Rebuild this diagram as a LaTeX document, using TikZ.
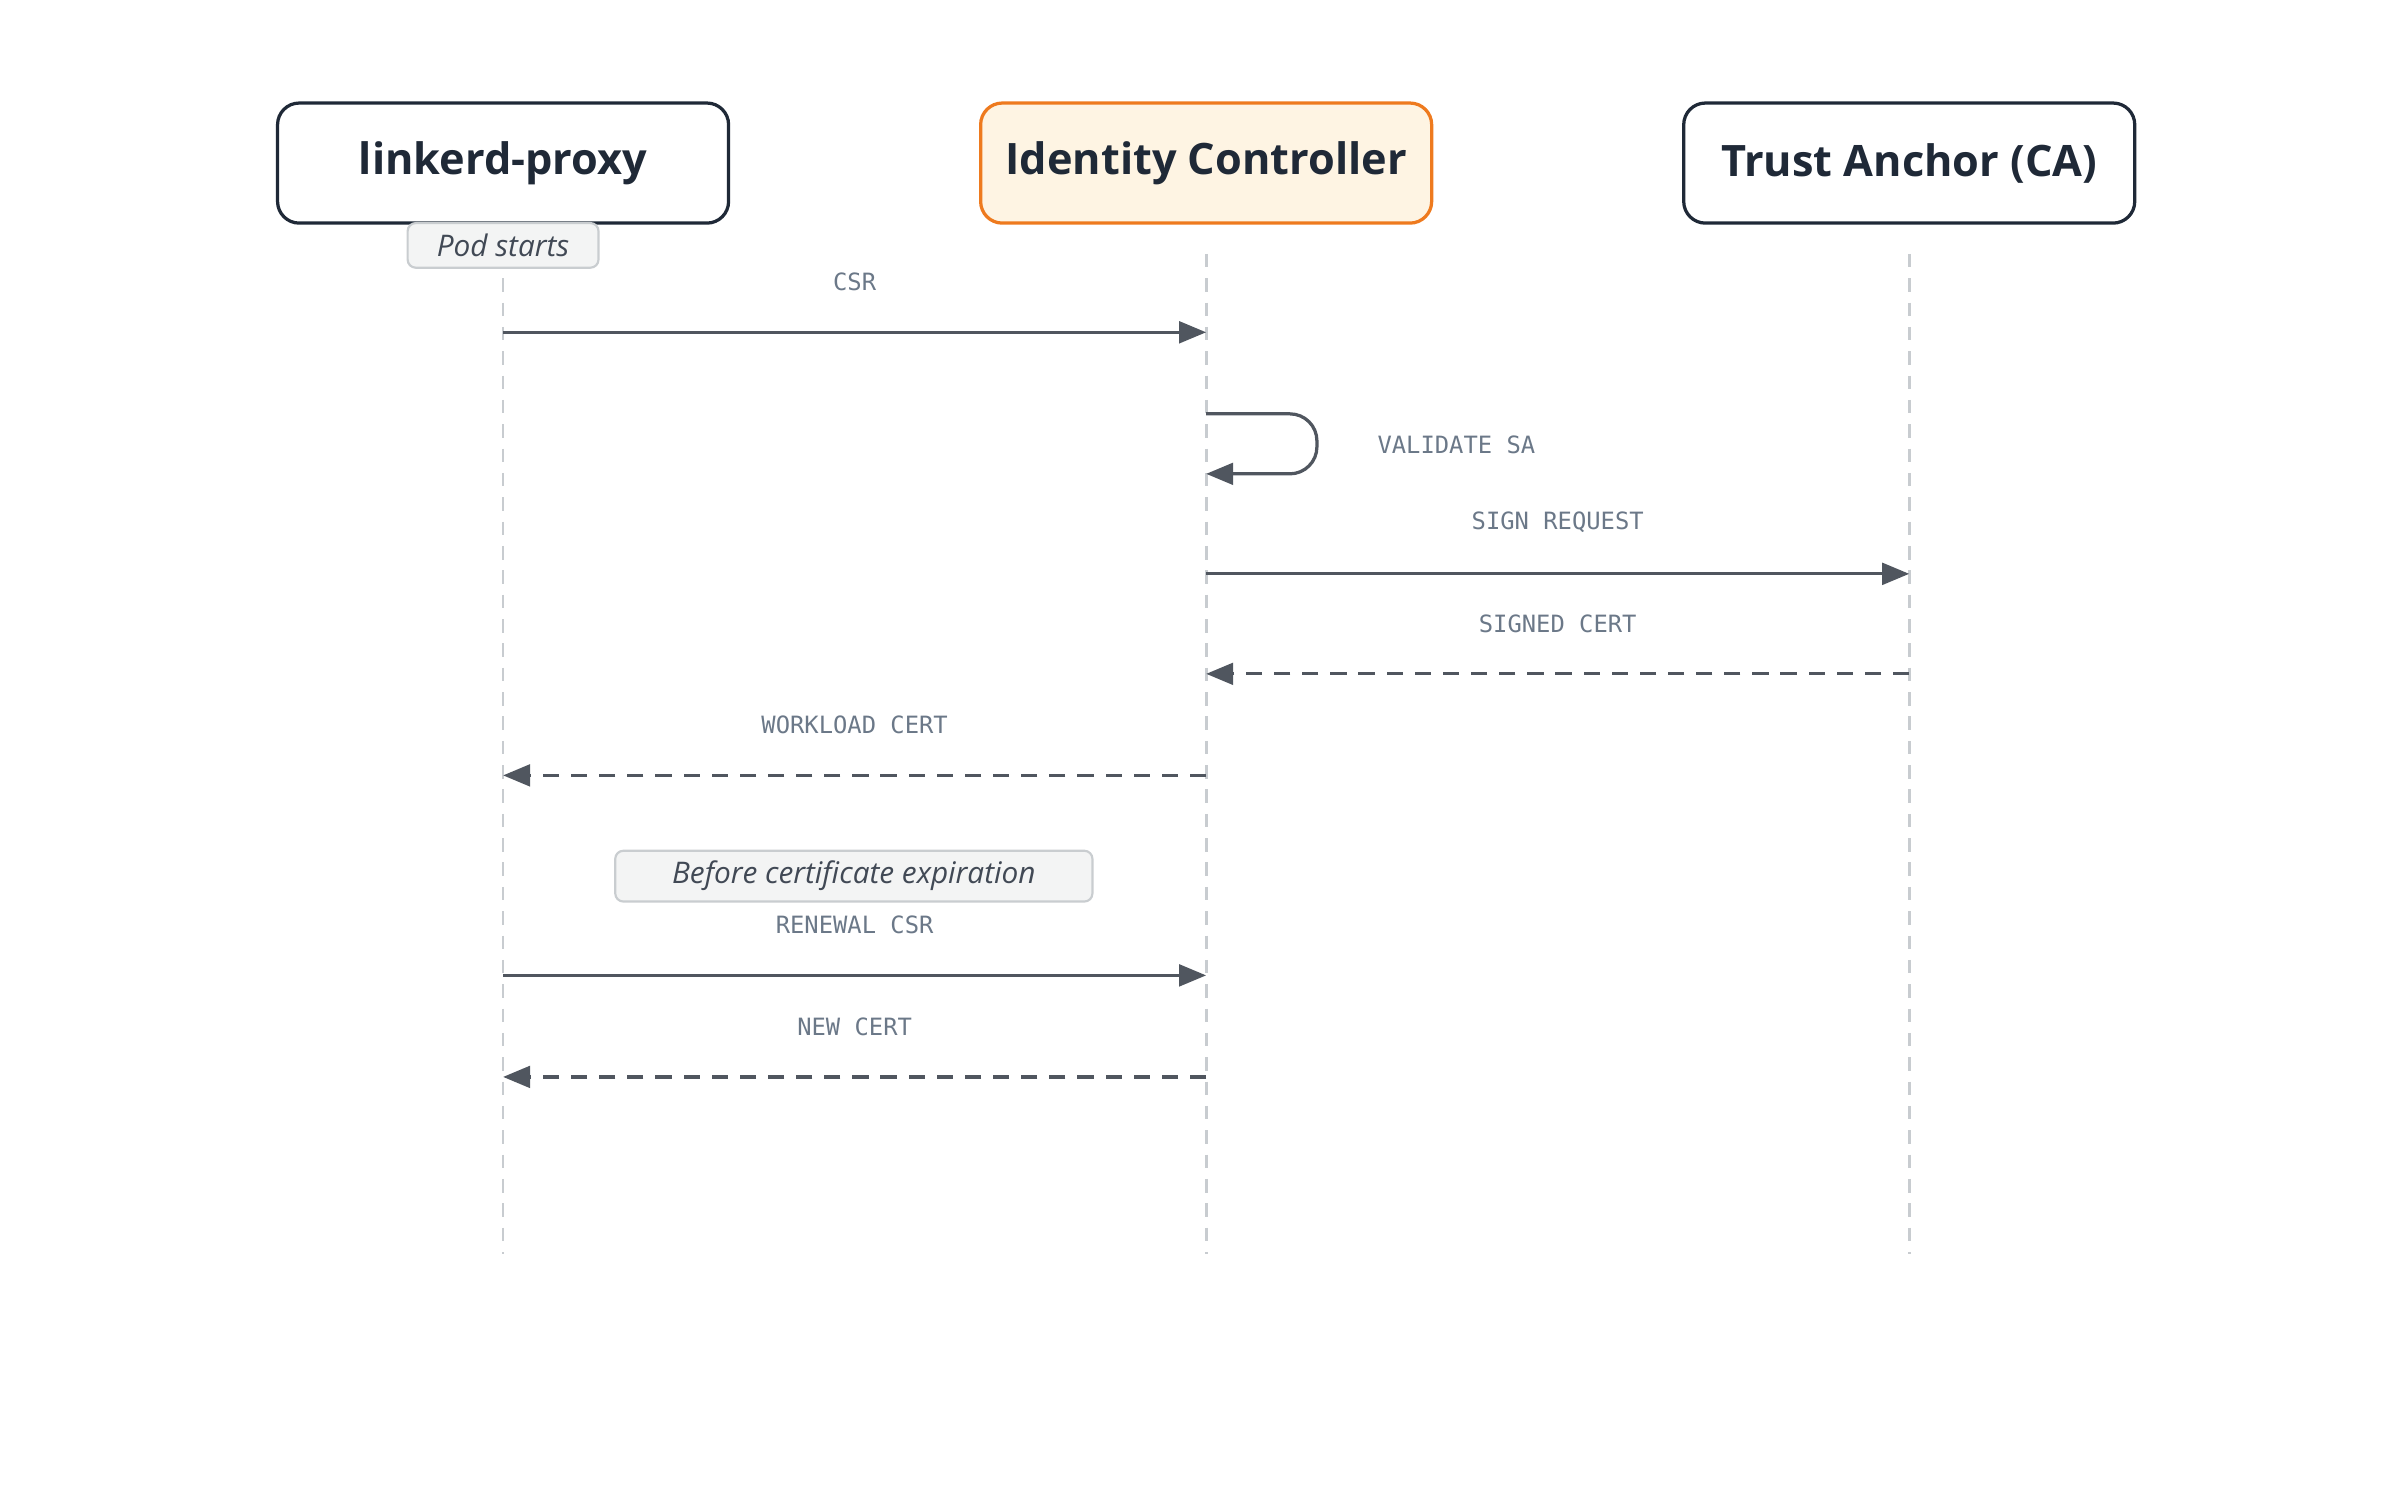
\documentclass[tikz,border=0pt]{standalone}
\usepackage{fontspec}
\setmainfont{Open Sans}
\newfontfamily\monof{DejaVu Sans Mono}
\usetikzlibrary{arrows.meta}
\definecolor{ink}{HTML}{1F2937}
\definecolor{org}{HTML}{EE7A1E}
\definecolor{orgf}{HTML}{FEF4E3}
\definecolor{arr}{HTML}{50565F}
\definecolor{lab}{HTML}{6B7888}
\definecolor{life}{HTML}{C8CCD0}
\definecolor{notef}{HTML}{F3F4F4}
\definecolor{notel}{HTML}{C9CDD0}
\begin{document}
\begin{tikzpicture}[x=0.01cm,y=-0.01cm,
 actor/.style={draw=ink,line width=0.6pt,rounded corners=4pt,minimum width=2.93cm,minimum height=0.78cm,font=\fontsize{8}{10}\selectfont\bfseries,text=ink},
 note/.style={draw=notel,fill=notef,line width=0.4pt,rounded corners=1.5pt,font=\fontsize{5.5}{7}\selectfont\itshape,text=ink!85,inner sep=0pt},
 msg/.style={draw=arr,line width=0.6pt,-{Triangle[length=5pt,width=4pt]}},
 dmsg/.style={msg,dash pattern=on 3pt off 2.2pt},
 lbl/.style={font=\monof\fontsize{4.4}{6}\selectfont,text=lab},
 lifeline/.style={draw=life,line width=0.5pt,dash pattern=on 2.5pt off 2pt}]
\useasboundingbox (0,0) rectangle (1560,976);
\node[actor] (lp) at (327,106) {linkerd-proxy};
\node[actor,draw=org,fill=orgf] (ic) at (784,106) {Identity Controller};
\node[actor] (ta) at (1241,106) {Trust Anchor (CA)};
\coordinate (lpt) at (327,165); \coordinate (lpb) at (327,815);
\coordinate (ict) at (784,165); \coordinate (icb) at (784,815);
\coordinate (tat) at (1241,165); \coordinate (tab) at (1241,815);
\draw[lifeline] (lpt) -- (lpb);
\draw[lifeline] (ict) -- (icb);
\draw[lifeline] (tat) -- (tab);
\node[note,minimum width=1.24cm,minimum height=0.29cm] (ps) at (327,159.5) {Pod starts};
\node[note,minimum width=3.10cm,minimum height=0.33cm] (bce) at (555,569.5) {Before certificate expiration};
\coordinate (a1) at (327,216); \coordinate (b1) at (784,216);
\draw[msg] (a1) -- (b1) node[lbl,midway,above=0.14cm] {CSR};
\coordinate (s1) at (784,269); \coordinate (s2) at (784,308);
\draw[msg,rounded corners=5pt] (s1) -- (856,269) -- (856,308) -- (s2);
\node[lbl,anchor=west] (vs) at (883,289) {VALIDATE SA};
\coordinate (a3) at (784,373); \coordinate (b3) at (1241,373);
\draw[msg] (a3) -- (b3) node[lbl,midway,above=0.14cm] {SIGN REQUEST};
\coordinate (a4) at (1241,438); \coordinate (b4) at (784,438);
\draw[dmsg] (a4) -- (b4) node[lbl,midway,above=0.14cm] {SIGNED CERT};
\coordinate (a5) at (784,504); \coordinate (b5) at (327,504);
\draw[dmsg] (a5) -- (b5) node[lbl,midway,above=0.14cm] {WORKLOAD CERT};
\coordinate (a6) at (327,634); \coordinate (b6) at (784,634);
\draw[msg] (a6) -- (b6) node[lbl,midway,above=0.14cm] {RENEWAL CSR};
\coordinate (a7) at (784,700); \coordinate (b7) at (327,700);
\draw[dmsg] (a7) -- (b7) node[lbl,midway,above=0.14cm] {NEW CERT};
\end{tikzpicture}
\end{document}
